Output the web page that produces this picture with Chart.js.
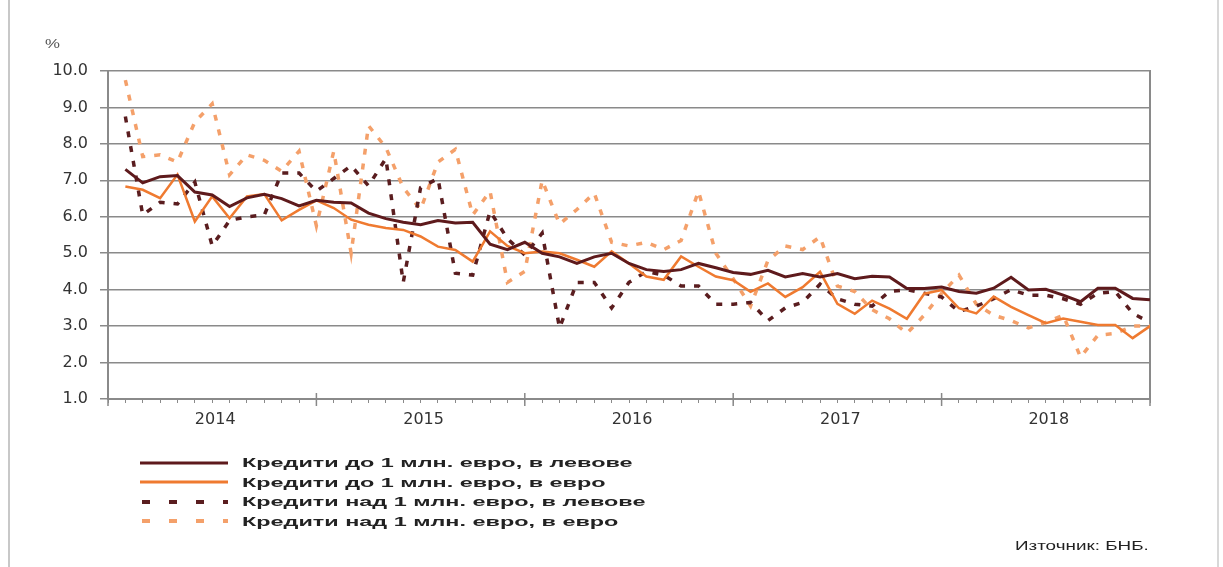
<!DOCTYPE html>
<html>
<head>
<meta charset="utf-8">
<script src="https://cdn.jsdelivr.net/npm/chart.js@4.4.1/dist/chart.umd.min.js"></script>
<style>
  html, body { margin: 0; padding: 0; background: #fff; }
  #wrap { position: relative; width: 1223px; height: 567px; font-family: "Liberation Sans", Arial, sans-serif; }
  #frameL { position: absolute; left: 8px; top: 0; width: 2px; height: 567px; background: #c8c8c8; }
  #frameR { position: absolute; left: 1217px; top: 0; width: 2px; height: 567px; background: #d8d8d8; }
  #pct { position: absolute; left: 45px; top: 37px; font-size: 12px; color: #555; transform: scaleX(1.4); transform-origin: left; }
  #legend { position: absolute; left: 140px; top: 453px; }
  .row { display: flex; align-items: center; height: 19.5px; }
  .row svg { width: 88px; height: 10px; flex: none; }
  .row span { display: inline-block; margin-left: 14px; font-size: 13px; font-weight: bold; color: #222; transform: scaleX(1.8); transform-origin: left center; white-space: nowrap; }
  #src { position: absolute; left: 1015px; top: 538px; font-size: 13px; color: #222; transform: scaleX(1.45); transform-origin: left; white-space: nowrap; }
</style>
</head>
<body>
<div id="wrap">
  <canvas id="rateChart" width="1223" height="567"></canvas>
  <div id="frameL"></div>
  <div id="frameR"></div>
  <div id="pct">%</div>
  <div id="legend"></div>
  <div id="src">Източник: БНБ.</div>
</div>
<script>
// monthly data, Jan 2014 - Dec 2018
const years = [2014, 2015, 2016, 2017, 2018];

const levUnder1m = [7.3, 6.93, 7.1, 7.13, 6.68, 6.6, 6.28, 6.52, 6.62, 6.5, 6.3, 6.45,
  6.4, 6.38, 6.1, 5.95, 5.85, 5.78, 5.9, 5.83, 5.85, 5.25, 5.1, 5.3,
  5.0, 4.9, 4.72, 4.9, 5.0, 4.72, 4.55, 4.5, 4.55, 4.72, 4.6, 4.47,
  4.42, 4.53, 4.35, 4.44, 4.35, 4.44, 4.3, 4.37, 4.35, 4.03, 4.03, 4.07,
  3.95, 3.9, 4.04, 4.34, 3.99, 4.01, 3.85, 3.67, 4.04, 4.04, 3.76, 3.72];

const eurUnder1m = [6.83, 6.74, 6.51, 7.16, 5.87, 6.56, 5.96, 6.56, 6.62, 5.9, 6.19, 6.45,
  6.24, 5.92, 5.78, 5.69, 5.64, 5.46, 5.18, 5.09, 4.77, 5.6, 5.2, 5.0,
  5.05, 5.0, 4.82, 4.63, 5.05, 4.72, 4.36, 4.27, 4.91, 4.63, 4.36, 4.26,
  3.94, 4.17, 3.8, 4.07, 4.49, 3.61, 3.34, 3.7, 3.48, 3.2, 3.89, 3.99,
  3.49, 3.35, 3.81, 3.53, 3.3, 3.08, 3.21, 3.12, 3.03, 3.03, 2.67, 3.0];

const levOver1m = [8.75, 6.05, 6.4, 6.35, 6.95, 5.2, 5.9, 6.0, 6.05, 7.2, 7.2, 6.7,
  7.05, 7.4, 6.85, 7.6, 4.2, 6.8, 7.05, 4.45, 4.4, 6.15, 5.4, 4.95,
  5.55, 2.95, 4.2, 4.2, 3.5, 4.2, 4.5, 4.4, 4.1, 4.1, 3.6, 3.6,
  3.65, 3.15, 3.5, 3.65, 4.15, 3.75, 3.6, 3.55, 3.95, 4.0, 3.9, 3.8,
  3.4, 3.55, 3.75, 4.0, 3.85, 3.85, 3.75, 3.6, 3.9, 3.95, 3.35, 3.1];

const eurOver1m = [9.75, 7.65, 7.7, 7.5, 8.6, 9.1, 7.15, 7.7, 7.55, 7.25, 7.8, 5.75,
  7.8, 5.0, 8.5, 7.9, 6.8, 6.2, 7.5, 7.85, 6.05, 6.7, 4.2, 4.5,
  7.0, 5.8, 6.2, 6.65, 5.3, 5.2, 5.3, 5.1, 5.35, 6.7, 5.0, 4.3,
  3.55, 4.8, 5.2, 5.1, 5.45, 4.1, 3.95, 3.45, 3.2, 2.8, 3.3, 3.9,
  4.4, 3.6, 3.3, 3.15, 2.95, 3.1, 3.3, 2.15, 2.75, 2.8, 3.0, 3.0];

const seriesNames = [
  "Кредити до 1 млн. евро, в левове",
  "Кредити до 1 млн. евро, в евро",
  "Кредити над 1 млн. евро, в левове",
  "Кредити над 1 млн. евро, в евро"
];
const colors = ["#5e1a1c", "#ef7a30", "#5a1d1f", "#f4a06a"];

const toPoints = arr => arr.map((v, i) => ({ x: i + 1, y: v }));
const dash = [6, 9];
const tickFont = { family: "DejaVu Sans", size: 16 };

// year boundary ticks on the x axis
const yearTicks = {
  id: "yearTicks",
  afterDraw(chart) {
    const xs = chart.scales.x, ctx = chart.ctx, b = chart.chartArea.bottom;
    ctx.save();
    ctx.strokeStyle = "#888";
    ctx.lineWidth = 1.5;
    for (let k = 0; k <= years.length; k++) {
      const px = xs.getPixelForValue(k * 12);
      ctx.beginPath();
      ctx.moveTo(px, b - 6);
      ctx.lineTo(px, b + 7);
      ctx.stroke();
    }
    ctx.restore();
  }
};

new Chart(document.getElementById("rateChart"), {
  type: "line",
  data: {
    datasets: [
      { label: seriesNames[0], data: toPoints(levUnder1m), borderColor: colors[0], borderWidth: 3 },
      { label: seriesNames[1], data: toPoints(eurUnder1m), borderColor: colors[1], borderWidth: 2.5 },
      { label: seriesNames[2], data: toPoints(levOver1m), borderColor: colors[2], borderWidth: 3.5, borderDash: dash },
      { label: seriesNames[3], data: toPoints(eurOver1m), borderColor: colors[3], borderWidth: 3.5, borderDash: dash }
    ]
  },
  options: {
    responsive: false,
    animation: false,
    devicePixelRatio: 1,
    elements: { point: { radius: 0 }, line: { tension: 0 } },
    layout: { padding: { left: 20, right: 73, top: 71, bottom: 138 } },
    plugins: { legend: { display: false }, tooltip: { enabled: false } },
    scales: {
      x: {
        type: "linear",
        min: 0,
        max: 60,
        afterFit: s => { s.height = 30; },
        border: { color: "#8a8a8a", width: 2 },
        grid: { drawOnChartArea: false, color: "#8a8a8a", tickLength: 4, lineWidth: 1 },
        ticks: {
          stepSize: 1,
          autoSkip: false,
          maxRotation: 0,
          padding: 7,
          labelOffset: 3,
          color: "#333",
          font: tickFont,
          callback: v => (v % 12 === 6 ? String(years[(v - 6) / 12]) : "")
        }
      },
      y: {
        min: 1,
        max: 10,
        afterFit: s => { s.width = 88; },
        border: { color: "#8a8a8a", width: 2 },
        grid: { color: "#8a8a8a", lineWidth: 1.5, tickLength: 8 },
        ticks: {
          stepSize: 1,
          padding: 12,
          color: "#333",
          font: tickFont,
          callback: v => v.toFixed(1)
        }
      },
      y2: {
        position: "right",
        min: 1,
        max: 10,
        afterFit: s => { s.width = 0; },
        border: { color: "#8a8a8a", width: 2 },
        grid: { drawOnChartArea: false, drawTicks: false },
        ticks: { display: false }
      }
    }
  },
  plugins: [yearTicks]
});

// legend as html rows
const legend = document.getElementById("legend");
seriesNames.forEach((name, i) => {
  const dashed = i >= 2;
  const line = dashed
    ? `<line x1="2" y1="5" x2="88" y2="5" stroke="${colors[i]}" stroke-width="4" stroke-dasharray="8 19"/>`
    : `<line x1="0" y1="5" x2="88" y2="5" stroke="${colors[i]}" stroke-width="3"/>`;
  legend.insertAdjacentHTML("beforeend",
    `<div class="row"><svg viewBox="0 0 88 10">${line}</svg><span>${name}</span></div>`);
});
</script>
</body>
</html>
